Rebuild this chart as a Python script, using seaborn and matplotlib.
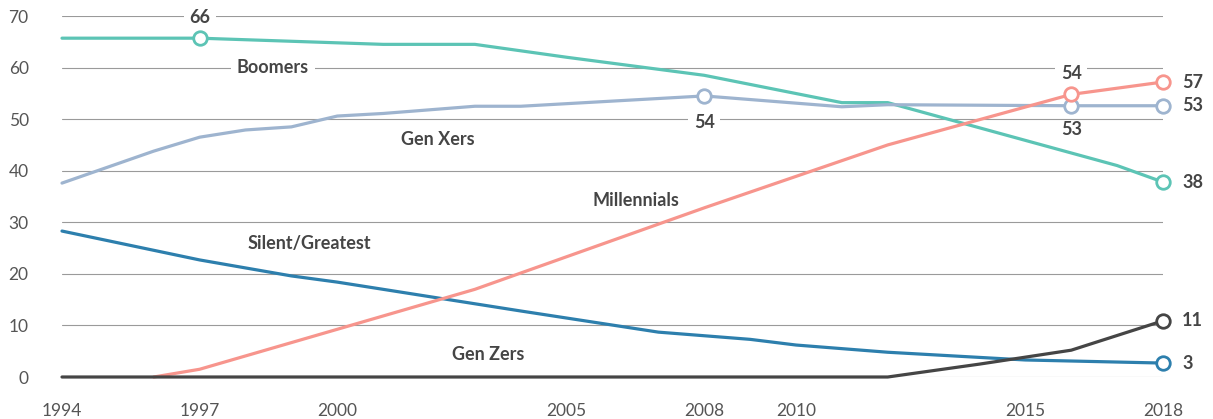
import numpy as np
import pandas as pd
import matplotlib
matplotlib.use("Agg")
import matplotlib.pyplot as plt
import seaborn as sns

# ---- data ----
boomers_years = [1994, 1997, 2000, 2001, 2003, 2005, 2008, 2011, 2012, 2017, 2018]
boomers_vals = [65.7, 65.7, 64.8, 64.5, 64.5, 62.0, 58.5, 53.2, 53.2, 41.0, 37.8]

genx_years = [1994, 1996, 1997, 1998, 1999, 2000, 2001, 2003, 2004, 2008, 2011, 2012, 2016, 2018]
genx_vals = [37.6, 43.8, 46.5, 47.9, 48.5, 50.6, 51.1, 52.5, 52.5, 54.5, 52.4, 52.8, 52.6, 52.6]

mill_years = [1996, 1997, 2003, 2008, 2012, 2016, 2018]
mill_vals = [0.0, 1.5, 17.0, 32.8, 45.0, 54.8, 57.2]

silent_years = [1994, 1997, 1999, 2000, 2004, 2007, 2009, 2010, 2012, 2015, 2018]
silent_vals = [28.3, 22.7, 19.6, 18.4, 12.8, 8.7, 7.3, 6.2, 4.8, 3.3, 2.7]

genz_years = [1994, 2012, 2014, 2016, 2018]
genz_vals = [0.0, 0.0, 2.5, 5.2, 10.9]

series_names = ["Silent/Greatest", "Boomers", "Gen Xers", "Millennials", "Gen Zers"]
colors = {"Boomers": "#5cc4b5", "Gen Xers": "#9eb4cf", "Millennials": "#f7958d",
          "Silent/Greatest": "#2d7fad", "Gen Zers": "#454545"}

# highlighted points (series, year, label)
highlights = [("Boomers", 1997, "66"), ("Gen Xers", 2008, "54"), ("Gen Xers", 2016, "53"),
              ("Millennials", 2016, "54"), ("Boomers", 2018, "38"), ("Gen Xers", 2018, "53"),
              ("Millennials", 2018, "57"), ("Gen Zers", 2018, "11"), ("Silent/Greatest", 2018, "3")]

x_ticks = [1994, 1997, 2000, 2005, 2008, 2010, 2015, 2018]
y_ticks = [0, 10, 20, 30, 40, 50, 60, 70]

frames = []
for name, yrs, vals in [("Boomers", boomers_years, boomers_vals),
                        ("Gen Xers", genx_years, genx_vals),
                        ("Millennials", mill_years, mill_vals),
                        ("Silent/Greatest", silent_years, silent_vals),
                        ("Gen Zers", genz_years, genz_vals)]:
    frames.append(pd.DataFrame({"year": yrs, "value": vals, "gen": name}))
df = pd.concat(frames, ignore_index=True)

sns.set_theme(style="white")
plt.rcParams["font.family"] = ["Lato", "DejaVu Sans"]

fig = plt.figure(figsize=(12.13, 4.19), dpi=100)
ax = fig.add_axes([62 / 1213, 1 - 377 / 419, (1163 - 62) / 1213, (377 - 16) / 419])

sns.lineplot(data=df, x="year", y="value", hue="gen", hue_order=series_names,
             palette=colors, linewidth=2.3, ax=ax, legend=False, zorder=3, clip_on=False)
for ln in ax.lines:
    ln.set_clip_on(False)
    ln.set_solid_joinstyle("round")

# markers
lookup = {(r.gen, r.year): r.value for r in df.itertuples()}
hl = pd.DataFrame([(g, y, lookup[(g, y)]) for g, y, _ in highlights], columns=["gen", "year", "value"])
for g, sub in hl.groupby("gen"):
    sns.scatterplot(data=sub, x="year", y="value", ax=ax, s=95, facecolor="white",
                    edgecolor=colors[g], linewidth=2.0, zorder=5, clip_on=False, legend=False)

ax.set_xlim(1994, 2018)
ax.set_ylim(0, 70)
ax.set_xticks(x_ticks)
ax.set_yticks(y_ticks)
ax.set_xticklabels([str(t) for t in x_ticks])
ax.set_yticklabels([str(t) for t in y_ticks])
ax.tick_params(axis="y", length=0, pad=24, labelsize=12.5, labelcolor="#555555")
ax.tick_params(axis="x", length=0, pad=19, labelsize=12.5, labelcolor="#555555")
ax.set_xlabel("")
ax.set_ylabel("")
for s in ax.spines.values():
    s.set_visible(False)
ax.yaxis.grid(True, color="#9a9a9a", linewidth=0.8)
ax.xaxis.grid(False)
ax.set_axisbelow(True)

txt_col = "#454545"
box = dict(facecolor="white", edgecolor="none", pad=4)

# series labels
series_labels = [("Boomers", 1998.6, 60.0), ("Gen Xers", 2002.2, 46.0),
                 ("Millennials", 2006.5, 34.2), ("Silent/Greatest", 1999.4, 25.8),
                 ("Gen Zers", 2003.3, 4.3)]
for lab, x, y in series_labels:
    ax.text(x, y, lab, ha="center", va="center", fontsize=13, fontweight="bold",
            color=txt_col, bbox=box if lab == "Boomers" else None, zorder=1)

# value labels near points
inline = [("66", 1997, 69.8, True), ("54", 2008, 49.4, True), ("54", 2016, 58.8, True),
          ("53", 2016, 47.9, False)]
for lab, x, y, use_box in inline:
    ax.text(x, y, lab, ha="center", va="center", fontsize=13, fontweight="bold",
            color=txt_col, bbox=box if use_box else None, zorder=1)

# right-end labels
for g, y, lab in highlights:
    if y == 2018:
        ax.text(2018.42, lookup[(g, y)], lab, ha="left", va="center", fontsize=13,
                fontweight="bold", color=txt_col, clip_on=False)

fig.savefig("out.png", dpi=100)
